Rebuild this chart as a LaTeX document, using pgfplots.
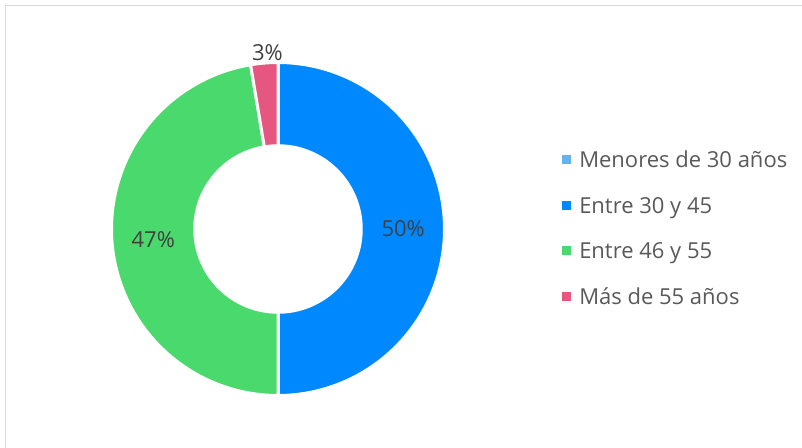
\documentclass[border=0pt]{standalone}
\usepackage{pgfplots}
\pgfplotsset{compat=1.18}
\usepackage{pgfplotstable}
\usepackage{fontspec}
\setmainfont{Open Sans}
\definecolor{cLight}{RGB}{94,181,242}
\definecolor{cBlue}{RGB}{0,137,255}
\definecolor{cGreen}{RGB}{74,217,108}
\definecolor{cPink}{RGB}{229,87,128}
\definecolor{labelgray}{RGB}{64,64,64}
\definecolor{legendgray}{RGB}{89,89,89}
\definecolor{framegray}{RGB}{217,217,217}

\pgfplotstableread{
label value
menores 0
e3045 19
e4655 18
mas55 1
}\agedata

\def\ri{0.5}
\newcommand\sector[3]{%
  \addplot[fill=#3, draw=white, line width=3pt, domain=0:2, samples=241, variable=\t]
  ({(\t<1.004 ? 1 : \ri)*cos(\t<1.004 ? #1+(#2-#1)*\t : #2+(#1-#2)*max(0,(\t-1.01)/0.99))},
   {(\t<1.004 ? 1 : \ri)*sin(\t<1.004 ? #1+(#2-#1)*\t : #2+(#1-#2)*max(0,(\t-1.01)/0.99))}) -- cycle;
}

\begin{document}
\begin{tikzpicture}
\useasboundingbox (0pt,0pt) rectangle (802pt,447pt);
\draw[framegray, line width=1pt] (5.5pt,-10pt) -- (5.5pt,441pt) -- (812pt,441pt);
\pgfplotstablegetelem{0}{value}\of\agedata \let\vA\pgfplotsretval
\pgfplotstablegetelem{1}{value}\of\agedata \let\vB\pgfplotsretval
\pgfplotstablegetelem{2}{value}\of\agedata \let\vC\pgfplotsretval
\pgfplotstablegetelem{3}{value}\of\agedata \let\vD\pgfplotsretval
\pgfmathsetmacro\total{\vA+\vB+\vC+\vD}
\pgfmathsetmacro\aA{90}
\pgfmathsetmacro\bA{\aA-360*\vA/\total}
\pgfmathsetmacro\bB{\bA-360*\vB/\total}
\pgfmathsetmacro\bC{\bB-360*\vC/\total}
\pgfmathsetmacro\bD{\bC-360*\vD/\total}
\pgfmathsetmacro\mB{(\bA+\bB)/2}
\pgfmathsetmacro\mC{(\bB+\bC)/2}
\pgfmathsetmacro\mD{(\bC+\bD)/2}
\pgfmathtruncatemacro\pB{round(100*\vB/\total)}
\pgfmathtruncatemacro\pC{round(100*\vC/\total)}
\pgfmathtruncatemacro\pD{round(100*\vD/\total)}
\begin{axis}[
  at={(278pt,218pt)}, anchor=center,
  width=333pt, height=333pt, scale only axis,
  xmin=-1, xmax=1, ymin=-1, ymax=1,
  hide axis, clip=false,
  legend style={at={(1.353,0.503)}, anchor=west, draw=none, fill=none,
    inner sep=0pt, row sep=29.8pt, column sep=8pt,
    font=\fontsize{22}{26}\selectfont\color{legendgray},
    nodes={inner sep=0pt, text height=15.7pt, text depth=0pt}},
  legend cell align=left,
  legend image code/.code={\fill[#1, draw=none] (0pt,-4.5pt) rectangle (9pt,4.5pt);},
]
\addlegendimage{fill=cLight}
\addlegendentry{Menores de 30 años}
\sector{\bA}{\bB}{cBlue}
\addlegendentry{Entre 30 y 45}
\sector{\bB}{\bC}{cGreen}
\addlegendentry{Entre 46 y 55}
\sector{\bC}{\bD}{cPink}
\addlegendentry{Más de 55 años}
\node[font=\fontsize{22}{26}\selectfont, text=labelgray] at (axis cs:{0.752*cos(\mB)},{0.752*sin(\mB)}) {\pB\%};
\node[font=\fontsize{22}{26}\selectfont, text=labelgray] at (axis cs:{0.752*cos(\mC)},{0.752*sin(\mC)}) {\pC\%};
\node[font=\fontsize{22}{26}\selectfont, text=labelgray, xshift=4pt] at (axis cs:{1.06*cos(\mD)},{1.06*sin(\mD)}) {\pD\%};
\end{axis}
\end{tikzpicture}
\end{document}
